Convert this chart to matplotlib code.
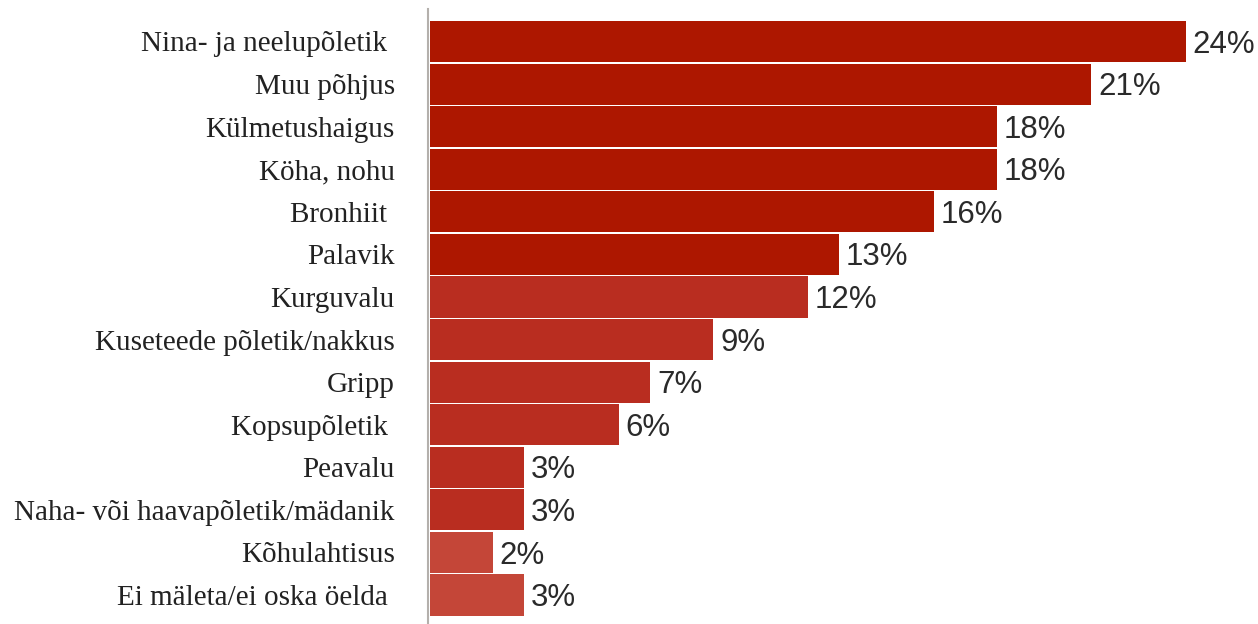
import matplotlib
matplotlib.use('Agg')
import matplotlib.pyplot as plt

categories = ['Nina- ja neelupõletik ', 'Muu põhjus', 'Külmetushaigus', 'Köha, nohu',
              'Bronhiit ', 'Palavik', 'Kurguvalu', 'Kuseteede põletik/nakkus', 'Gripp',
              'Kopsupõletik ', 'Peavalu', 'Naha- või haavapõletik/mädanik',
              'Kõhulahtisus', 'Ei mäleta/ei oska öelda ']
values = [24, 21, 18, 18, 16, 13, 12, 9, 7, 6, 3, 3, 2, 3]
colors = ['#AD1700'] * 6 + ['#B92D20'] * 6 + ['#C44638'] * 2

fig = plt.figure(figsize=(12.58, 6.24), dpi=100)
ax = fig.add_axes([428 / 1258, 0, 1 - 428 / 1258, 615 / 624])

pos = list(range(len(values)))
ax.barh(pos, values, height=0.965, color=colors, left=0.05)
for p, v in zip(pos, values):
    ax.text(v + 0.05 + 0.22, p + 0.26, f'{v}%', va='baseline', ha='left',
            fontsize=22.5, family='Liberation Sans', color='#2a2a2a')

ax.set_yticks(pos)
ax.set_yticklabels(categories, family='Liberation Serif', fontsize=21, color='#222222')
ax.tick_params(axis='y', length=0, pad=24)
ax.set_xticks([])
ax.set_xlim(0, 830 / 31.5)
ax.set_ylim(13 + 0.68, -0.763)
for s in ['top', 'right', 'bottom']:
    ax.spines[s].set_visible(False)
ax.spines['left'].set_color('#b4b0ac')
ax.spines['left'].set_linewidth(1.5)

fig.savefig('out.png', dpi=100)
